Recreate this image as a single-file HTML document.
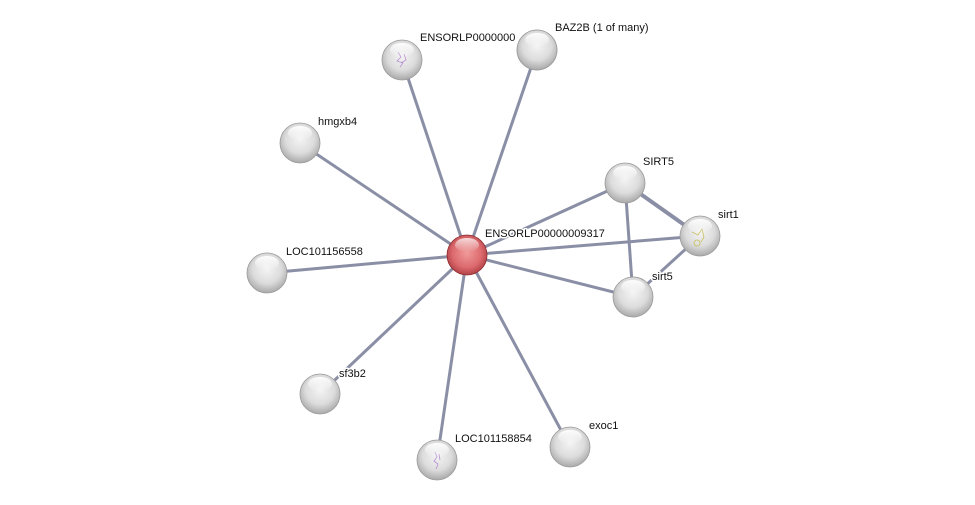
<!DOCTYPE html>
<html><head><meta charset="utf-8"><style>
html,body{margin:0;padding:0;background:#fff;width:975px;height:505px;overflow:hidden}
svg text{font-family:"Liberation Sans",sans-serif;font-size:11px;fill:#111;paint-order:stroke;stroke:#fff;stroke-width:3px;stroke-linejoin:round}
</style></head><body>
<svg width="975" height="505" viewBox="0 0 975 505" xmlns="http://www.w3.org/2000/svg">
<defs>
<radialGradient id="g" cx="50%" cy="40%" r="60%">
<stop offset="0" stop-color="#f4f4f4"/><stop offset="0.6" stop-color="#dcdcdc"/><stop offset="1" stop-color="#a9a9a9"/>
</radialGradient>
<radialGradient id="r" cx="50%" cy="45%" r="60%">
<stop offset="0" stop-color="#f09a9a"/><stop offset="0.6" stop-color="#dc6a6e"/><stop offset="1" stop-color="#a8383d"/>
</radialGradient>
<linearGradient id="hl" x1="0" y1="0" x2="0" y2="1">
<stop offset="0" stop-color="#fff" stop-opacity="0.95"/><stop offset="1" stop-color="#fff" stop-opacity="0"/>
</linearGradient>
</defs>
<g stroke="#8a8fa6" stroke-width="3" fill="none">
<line x1="467" y1="255" x2="402" y2="60"/>
<line x1="467" y1="255" x2="537" y2="50"/>
<line x1="467" y1="255" x2="300" y2="143"/>
<line x1="467" y1="255" x2="625" y2="183"/>
<line x1="467" y1="255" x2="700" y2="236"/>
<line x1="467" y1="255" x2="267" y2="273"/>
<line x1="467" y1="255" x2="633" y2="297"/>
<line x1="467" y1="255" x2="320" y2="394"/>
<line x1="467" y1="255" x2="437" y2="460"/>
<line x1="467" y1="255" x2="570" y2="447"/>
<line x1="625" y1="183" x2="633" y2="297"/>
<line x1="625" y1="183" x2="700" y2="236" stroke-width="4"/>
<line x1="700" y1="236" x2="633" y2="297"/>
</g>
<g id="nodes">
<g transform="translate(402,60)"><circle r="20" fill="url(#g)" stroke="#9a9a9a" stroke-width="0.8"/><path d="M-4,-8 l3,5 l-4,4 l6,2 l-3,4 M2,-6 l2,6 l-5,3" stroke="#b690d0" stroke-width="0.8" fill="none"/><ellipse cy="-10" rx="12" ry="7" fill="url(#hl)"/></g>
<g transform="translate(537,50)"><circle r="20" fill="url(#g)" stroke="#9a9a9a" stroke-width="0.8"/><ellipse cy="-10" rx="12" ry="7" fill="url(#hl)"/></g>
<g transform="translate(300,143)"><circle r="20" fill="url(#g)" stroke="#9a9a9a" stroke-width="0.8"/><ellipse cy="-10" rx="12" ry="7" fill="url(#hl)"/></g>
<g transform="translate(625,183)"><circle r="20" fill="url(#g)" stroke="#9a9a9a" stroke-width="0.8"/><ellipse cy="-10" rx="12" ry="7" fill="url(#hl)"/></g>
<g transform="translate(700,236)"><circle r="20" fill="url(#g)" stroke="#9a9a9a" stroke-width="0.8"/><path d="M-8,-4 l6,3 l4,-6 l2,8 l-3,5 M-3,4 a3,3 0 1 0 0.1,0" stroke="#c8c060" stroke-width="0.8" fill="none"/><ellipse cy="-10" rx="12" ry="7" fill="url(#hl)"/></g>
<g transform="translate(267,273)"><circle r="20" fill="url(#g)" stroke="#9a9a9a" stroke-width="0.8"/><ellipse cy="-10" rx="12" ry="7" fill="url(#hl)"/></g>
<g transform="translate(633,297)"><circle r="20" fill="url(#g)" stroke="#9a9a9a" stroke-width="0.8"/><ellipse cy="-10" rx="12" ry="7" fill="url(#hl)"/></g>
<g transform="translate(320,394)"><circle r="20" fill="url(#g)" stroke="#9a9a9a" stroke-width="0.8"/><ellipse cy="-10" rx="12" ry="7" fill="url(#hl)"/></g>
<g transform="translate(437,460)"><circle r="20" fill="url(#g)" stroke="#9a9a9a" stroke-width="0.8"/><path d="M-2,-8 l2,5 l-3,4 l4,3 l-2,5 M2,-6 l1,6" stroke="#b690d0" stroke-width="0.8" fill="none"/><ellipse cy="-10" rx="12" ry="7" fill="url(#hl)"/></g>
<g transform="translate(570,447)"><circle r="20" fill="url(#g)" stroke="#9a9a9a" stroke-width="0.8"/><ellipse cy="-10" rx="12" ry="7" fill="url(#hl)"/></g>
</g>
<text x="420" y="41">ENSORLP0000000</text>
<g transform="translate(537,50)"><circle r="20" fill="url(#g)" stroke="#9a9a9a" stroke-width="0.8"/><ellipse cy="-10" rx="12" ry="7" fill="url(#hl)"/></g>
<g transform="translate(467,255)"><circle r="20" fill="url(#r)" stroke="#8a2a2e" stroke-width="0.8"/><ellipse cy="-10" rx="12" ry="7" fill="url(#hl)" opacity="0.8"/></g>
<text x="555" y="31">BAZ2B (1 of many)</text>
<text x="318" y="125">hmgxb4</text>
<text x="643" y="165">SIRT5</text>
<text x="718" y="218">sirt1</text>
<text x="485" y="237">ENSORLP00000009317</text>
<text x="286" y="255">LOC101156558</text>
<text x="652" y="280">sirt5</text>
<text x="339" y="377">sf3b2</text>
<text x="455" y="442">LOC101158854</text>
<text x="589" y="429">exoc1</text>
</svg>
</body></html>
